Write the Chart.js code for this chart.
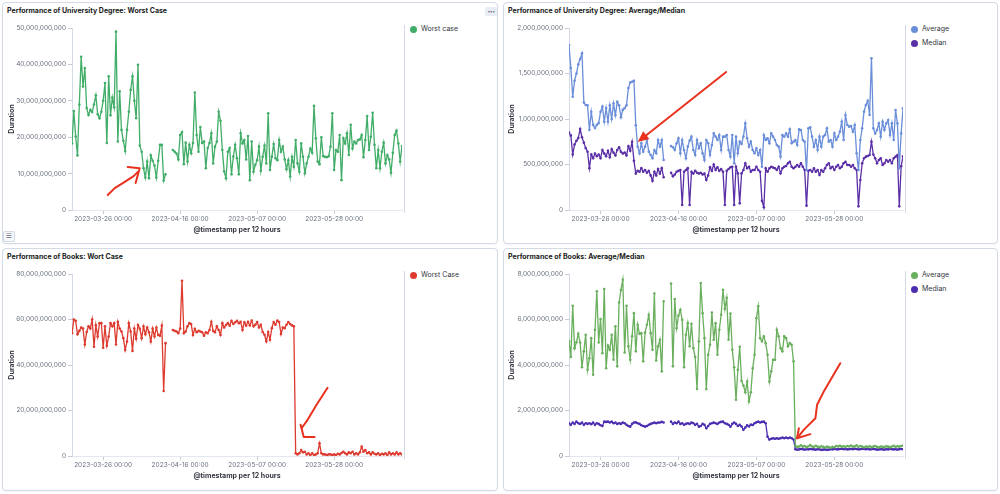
<!DOCTYPE html>
<html>
<head>
<meta charset="utf-8">
<script src="https://cdn.jsdelivr.net/npm/chart.js@4.4.0/dist/chart.umd.min.js"></script>
<style>
body { margin: 0; width: 1000px; height: 494px; background: #fff; font-family: Inter, sans-serif; position: relative; overflow: hidden; }
.panel { position: absolute; border: 1px solid #d3dae6; border-radius: 4px; background: #fff; box-sizing: border-box; box-shadow: 0 1px 2px rgba(0,0,0,0.04); }
.title { position: absolute; font-size: 7px; font-weight: 700; color: #1a1c21; white-space: nowrap; }
canvas { position: absolute; }
.legend { position: absolute; border-left: 1px solid #d3dae6; font-size: 7px; color: #343741; width: 90px; }
.items { position: relative; top: -3px; }
.item { position: relative; height: 14px; line-height: 14px; padding-left: 16px; white-space: nowrap; }
.dot { position: absolute; left: 5px; top: 3.5px; width: 7px; height: 7px; border-radius: 50%; }
.more { position: absolute; left: 485px; top: 7px; width: 12px; height: 9px; background: #e9edf3; border-radius: 2px; font-size: 5px; line-height: 9px; text-align: center; color: #69707d; letter-spacing: -0.5px; }
.listicon { position: absolute; left: 3px; top: 231px; width: 12px; height: 11px; border: 1px solid #d3dae6; background: #f5f7fa; border-radius: 2px; box-sizing: border-box; font-family: "DejaVu Sans"; font-size: 7px; line-height: 9px; text-align: center; color: #69707d; }
</style>
</head>
<body>
<div class="panel" style="left:2px;top:2px;width:496px;height:242px"></div>
<div class="panel" style="left:503px;top:2px;width:495px;height:242px"></div>
<div class="panel" style="left:2px;top:248px;width:496px;height:243px"></div>
<div class="panel" style="left:503px;top:248px;width:495px;height:243px"></div>

<div class="title" style="left:7px;top:6px">Performance of University Degree: Worst Case</div>
<div class="title" style="left:508px;top:6px">Performance of University Degree: Average/Median</div>
<div class="title" style="left:7px;top:252px">Performance of Books: Wort Case</div>
<div class="title" style="left:508px;top:252px">Performance of Books: Average/Median</div>

<div class="more">&#8226;&#8226;&#8226;</div>
<div class="listicon">&#9776;</div>

<canvas id="c1" width="401" height="216" style="left:3px;top:20px"></canvas>
<canvas id="c2" width="402" height="216" style="left:503px;top:20px"></canvas>
<canvas id="c3" width="401" height="216" style="left:3px;top:266px"></canvas>
<canvas id="c4" width="402" height="216" style="left:503px;top:266px"></canvas>

<div class="legend" id="l1" style="left:404px;top:25px;height:188px"></div>
<div class="legend" id="l2" style="left:905px;top:25px;height:188px"></div>
<div class="legend" id="l3" style="left:404px;top:271px;height:188px"></div>
<div class="legend" id="l4" style="left:905px;top:271px;height:188px"></div>

<script>
// x axis: one bucket per 12 hours, first bucket 2023-03-17 12:00
const tickIndex = [17, 59, 101, 143];
const tickLabels = ["2023-03-26 00:00", "2023-04-16 00:00", "2023-05-07 00:00", "2023-05-28 00:00"];

// University degree, worst case (billions)
const uniWorst = [
  18.3, 27.2, 20.2, 15, 29, 42.1, 33.9, 39, 28, 26.1,
  27.5, 26.9, 29, 31.5, 26.3, 25.2, 27, 30, 34.9, 18.4,
  36.7, 26, 30.9, 28.2, 49, 18.8, 32.6, 22, 19, 16.2,
  22, 27, 33, 36.7, 30, 25.2, 39.9, 17.7, 16, 11.5,
  8.9, 13.3, 8.7, 15, 13.5, 12.2, 8.9, 13.5, 17.9, 17.9,
  8.1, 9.8, null, null, null, 16.5, 16, 15.5, 13.9, 20.6,
  21.4, 12.6, 18.5, 13.3, 17.9, 15.6, 18.4, 32.3, 20.6, 16,
  22.8, 18.4, 18.8, 11.5, 17, 18.4, 21.1, 12.8, 17.4, 18.8,
  27, 24.5, 16.5, 10.6, 8.7, 16, 17, 9.8, 14.7, 17.9,
  14.2, 9.8, 21.1, 18.3, 19.2, 13.9, 20.3, 8.2, 18.8, 10.5,
  12.4, 13.7, 17.4, 10.8, 14.6, 17.7, 12.8, 26.6, 11, 14.6,
  18.1, 14.2, 13.7, 19.2, 16, 17.4, 13.9, 11.2, 13.7, 9.2,
  14.6, 11.9, 19.2, 12.8, 10.5, 18.3, 14.6, 10.1, 12.8, 14.6,
  16.9, 15.7, 28.6, 19.7, 13.3, 12.6, 20, 14.8, 14.6, 14.5,
  14.8, 17.4, 26.6, 11, 16.5, 16, 20.6, 8.2, 19.7, 18.3,
  21.1, 15.1, 23.4, 16.9, 18.8, 18.3, 19.2, 19.4, 20.6, 14.5,
  19.2, 25.8, 16.5, 20.1, 26.7, 17.9, 11.5, 16.5, 11.5, 16,
  18.5, 12.8, 15.1, 13.9, 10.2, 15.7, 20.6, 21.8, 18.3, 13.3,
  17.6
];

// University degree, average (millions)
const uniAverage = [
  1813, 1560, 1245, 1420, 1500, 1600, 1660, 1722, 1180, 1154,
  1150, 879, 1080, 935, 900, 935, 955, 1080, 1136, 970,
  1120, 970, 1150, 1000, 1170, 1040, 1190, 1150, 1020, 1100,
  1120, 1150, 1340, 1400, 1410, 1421, 930, 696, 623, 733,
  641, 696, 769, 641, 604, 568, 659, 623, 769, 696,
  769, 549, null, null, null, 703, 689, 659, 733, 788,
  623, 769, 659, 568, 696, 762, 806, 659, 604, 769,
  678, 733, 623, 549, 769, 733, 604, 714, 842, 806,
  769, 824, 659, 806, 806, 824, 659, 586, 824, 513,
  806, 623, 751, 725, 806, 952, 788, 696, 751, 659,
  623, 678, 604, 659, 476, 824, 769, 788, 733, 842,
  806, 769, 714, 696, 586, 824, 806, 842, 806, 886,
  733, 751, 769, 714, 886, 879, 769, 751, 440, 897,
  908, 806, 696, 769, 659, 806, 696, 806, 824, 897,
  751, 769, 696, 842, 769, 806, 861, 971, 769, 1044,
  934, 916, 923, 861, 934, 623, 440, 769, 897, 1081,
  1154, 1201, 1044, 1667, 897, 842, 879, 952, 806, 971,
  879, 952, 989, 824, 952, 769, 1099, 952, 458, 842,
  1117
];

// University degree, median (millions)
const uniMedian = [
  850, 820, 610, 720, 760, 790, 890, 800, 740, 680,
  640, 460, 610, 570, 620, 590, 610, 570, 660, 620,
  590, 650, 580, 670, 630, 600, 660, 690, 640, 620,
  630, 600, 700, 650, 750, 540, 400, 430, 420, 460,
  420, 440, 410, 430, 380, 320, 420, 380, 450, 400,
  460, 360, null, null, null, 410, 370, 390, 420, 430,
  440, 55, 420, 440, 460, 55, 420, 400, 430, 410,
  400, 410, 390, 400, 330, 380, 470, 430, 500, 440,
  470, 430, 450, 420, 55, 430, 450, 470, 476, 55,
  476, 403, 73, 403, 440, 513, 458, 476, 421, 440,
  440, 476, 440, 421, 100, 30, 458, 421, 458, 476,
  466, 458, 440, 476, 403, 458, 476, 484, 513, 531,
  476, 458, 476, 494, 476, 513, 476, 440, 48, 430,
  440, 421, 458, 421, 440, 385, 440, 421, 458, 494,
  513, 458, 476, 440, 476, 494, 458, 476, 513, 531,
  494, 494, 476, 494, 458, 440, 40, 330, 513, 568,
  586, 593, 604, 751, 610, 568, 513, 549, 568, 494,
  513, 549, 531, 549, 513, 568, 586, 604, 40, 480,
  590
];

// Books, worst case (billions)
const booksWorst = [
  54, 60, 59.4, 53.5, 55, 56.5, 56, 49, 54.5, 57,
  56, 60, 48, 57.5, 52.5, 58.4, 58.4, 47.6, 57, 48.5,
  52.5, 58.4, 57, 58.4, 49, 59, 56, 54.7, 51.8, 46.6,
  50.3, 58.4, 54.7, 46.2, 56, 51.5, 57.6, 55.9, 51.8, 57,
  53.5, 56.5, 54.4, 50.3, 56, 52.5, 56.5, 53.2, 52.9, 57.3,
  28.6, 49.6, null, null, null, 55.4, 55, 54.7, 54, 56,
  77, 54, 54.7, 57, 58.4, 58, 53.2, 55.9, 54.4, 55,
  54.7, 54.4, 52.9, 54.4, 54, 55.4, 59, 55, 54.4, 57,
  55.4, 53.2, 58.4, 56.5, 57.6, 58.4, 57.3, 59.4, 58, 58.8,
  59.4, 58.4, 59, 55.4, 58.8, 57.3, 59, 57.4, 59.5, 57,
  57.7, 58.9, 56.5, 57.7, 54.5, 53.3, 50.4, 54.5, 51.1, 56.2,
  58.9, 57.7, 59.5, 58.9, 53.6, 56.5, 56.2, 57.7, 58.9, 58,
  57.4, 57, 1.2, 0.7, 1.2, 2.6, 1.6, 1.9, 0.7, 1.2,
  0.4, 1.2, 0.4, 0.7, 1.2, 5.6, 1.2, 0.7, 0.7, 0.4,
  0.7, 0.7, 0.4, 0.7, 0.4, 1.0, 0.7, 1.3, 1.9, 1.2,
  0.7, 1.6, 1.2, 1.9, 0.7, 1.2, 0.7, 1.6, 4.1, 1.9,
  2.6, 1.2, 1.6, 0.7, 1.6, 1.0, 0.7, 1.2, 0.4, 1.0,
  0.7, 1.2, 0.4, 1.6, 0.7, 1.2, 0.7, 1.6, 0.7, 1.2,
  0.7
];

// Books, average (billions)
const booksAverage = [
  5.04, 4.35, 6.6, 4.74, 5.0, 5.37, 4.99, 3.9, 4.6, 5.33,
  3.79, 4.3, 5.18, 3.57, 5.55, 7.24, 4.99, 6.02, 4.52, 7.34,
  3.86, 4.85, 4.67, 5.33, 4.23, 5.7, 3.94, 6.75, 7.3, 7.75,
  4.55, 6.6, 4.82, 4.23, 5.26, 6.28, 4.6, 5.77, 5.37, 5.4,
  4.16, 5.43, 5.77, 6.21, 5.4, 4.67, 7.14, 4.2, 4.82, 5.11,
  3.72, 6.8, null, null, null, 7.58, 3.94, 6.9, 5.62, 6.17,
  6.43, 5.99, 3.9, 5.33, 5.84, 4.82, 5.81, 4.74, 4.35, 2.95,
  5.04, 7.6, 6.28, 5.18, 2.94, 4.45, 4.89, 6.31, 5.11, 5.84,
  4.45, 5.55, 6.21, 7.31, 6.46, 6.95, 5.11, 6.26, 4.67, 3.9,
  2.47, 3.79, 4.8, 3.3, 3.1, 2.8, 3.27, 2.4, 2.8, 3.86,
  4.45, 6.06, 6.58, 5.18, 5.04, 5.26, 4.96, 4.45, 3.27, 3.72,
  4.23, 4.23, 5.55, 5.26, 4.74, 4.6, 5.26, 5.18, 4.82, 4.96,
  4.89, 4.16, 0.45, 0.40, 0.42, 0.47, 0.41, 0.44, 0.39, 0.43,
  0.48, 0.42, 0.40, 0.45, 0.41, 0.38, 0.43, 0.40, 0.37, 0.41,
  0.39, 0.36, 0.40, 0.38, 0.44, 0.42, 0.45, 0.41, 0.43, 0.40,
  0.44, 0.42, 0.46, 0.41, 0.43, 0.47, 0.40, 0.44, 0.41, 0.38,
  0.42, 0.40, 0.43, 0.39, 0.41, 0.44, 0.40, 0.38, 0.42, 0.40,
  0.39, 0.43, 0.41, 0.38, 0.42, 0.45, 0.40, 0.43, 0.41, 0.44,
  0.46
];

// Books, median (billions)
const booksMedian = [
  1.44, 1.37, 1.47, 1.41, 1.51, 1.44, 1.41, 1.47, 1.37, 1.44,
  1.41, 1.44, 1.40, 1.47, 1.37, 1.44, 1.41, 1.35, 1.32, 1.51,
  1.50, 1.51, 1.47, 1.51, 1.44, 1.47, 1.41, 1.44, 1.41, 1.47,
  1.44, 1.37, 1.32, 1.29, 1.41, 1.47, 1.48, 1.44, 1.41, 1.35,
  1.32, 1.29, 1.32, 1.37, 1.41, 1.44, 1.47, 1.44, 1.47, 1.47,
  1.50, 1.47, null, null, null, 1.51, 1.41, 1.47, 1.44, 1.51,
  1.41, 1.44, 1.37, 1.41, 1.44, 1.41, 1.47, 1.44, 1.37, 1.41,
  1.29, 1.32, 1.41, 1.37, 1.22, 1.32, 1.41, 1.44, 1.47, 1.44,
  1.41, 1.47, 1.50, 1.51, 1.44, 1.41, 1.37, 1.29, 1.41, 1.47,
  1.41, 1.32, 1.37, 1.30, 1.15, 1.25, 1.35, 1.30, 1.38, 1.36,
  1.44, 1.48, 1.51, 1.47, 1.50, 1.51, 1.44, 0.85, 0.72, 0.76,
  0.78, 0.76, 0.78, 0.76, 0.78, 0.81, 0.78, 0.81, 0.78, 0.81,
  0.78, 0.72, 0.30, 0.28, 0.29, 0.31, 0.30, 0.28, 0.30, 0.29,
  0.31, 0.30, 0.29, 0.28, 0.30, 0.29, 0.27, 0.28, 0.29, 0.27,
  0.28, 0.30, 0.29, 0.31, 0.30, 0.29, 0.31, 0.32, 0.30, 0.31,
  0.29, 0.30, 0.31, 0.30, 0.32, 0.31, 0.29, 0.30, 0.32, 0.31,
  0.30, 0.31, 0.29, 0.30, 0.31, 0.30, 0.28, 0.29, 0.30, 0.29,
  0.28, 0.30, 0.29, 0.31, 0.30, 0.29, 0.30, 0.28, 0.30, 0.31,
  0.30
];

// hand drawn red arrows on the screenshot, in [bucket, value] of each chart
const notesUniWorst = [[[19.5, 4.1], [23.3, 6.0], [27.7, 7.4], [33.6, 9.3], [35.8, 10.4]], [[30.4, 11.8], [36.9, 11.5], [34.7, 7.4]]];
const notesUniAvg = { from: [84.7, 1516], to: [37, 747] };
const notesBooksWorst = [[[139.4, 30], [133.4, 22.5], [128.5, 15.9], [125.3, 12.3]], [[124.7, 13.7], [126.4, 8.4], [132.3, 8.4]]];
const notesBooksAvg = [[[146.2, 4.08], [137.3, 2.83], [133.7, 2.25], [132.8, 1.66], [126.5, 1.15], [122.9, 0.78]], [[123.9, 1.22], [122.9, 0.78], [130.1, 0.96]]];

Chart.defaults.font.family = "Inter";
Chart.defaults.font.size = 6.5;
Chart.defaults.color = "#69707d";
Chart.defaults.animation = false;

const handNotes = {
    id: "handNotes",
    afterDatasetsDraw: function(chart, args, opts) {
        const ctx = chart.ctx;
        const xs = chart.scales.x;
        const ys = chart.scales.y;
        const px = function(p) { return [xs.getPixelForValue(p[0]), ys.getPixelForValue(p[1] * opts.unit)]; };
        ctx.save();
        ctx.strokeStyle = "#e8321e";
        ctx.fillStyle = "#e8321e";
        ctx.lineWidth = 2;
        ctx.lineCap = "round";
        ctx.lineJoin = "round";
        (opts.strokes || []).forEach(function(s) {
            ctx.beginPath();
            s.forEach(function(p, i) {
                const q = px(p);
                if (i === 0) ctx.moveTo(q[0], q[1]); else ctx.lineTo(q[0], q[1]);
            });
            ctx.stroke();
        });
        if (opts.arrow) {
            const a = px(opts.arrow.from);
            const b = px(opts.arrow.to);
            const ang = Math.atan2(b[1] - a[1], b[0] - a[0]);
            const hl = 11, hw = 5;
            const bx = b[0] - Math.cos(ang) * hl, by = b[1] - Math.sin(ang) * hl;
            ctx.beginPath();
            ctx.moveTo(a[0], a[1]);
            ctx.lineTo(bx, by);
            ctx.stroke();
            ctx.beginPath();
            ctx.moveTo(b[0], b[1]);
            ctx.lineTo(bx + Math.sin(ang) * hw, by - Math.cos(ang) * hw);
            ctx.lineTo(bx - Math.sin(ang) * hw, by + Math.cos(ang) * hw);
            ctx.closePath();
            ctx.fill();
        }
        ctx.restore();
    }
};

function points(values, unit) {
    return values.map(function(v, i) {
        return { x: i, y: v === null ? null : v * unit };
    });
}

function line(label, values, unit, color) {
    return {
        label: label,
        data: points(values, unit),
        borderColor: color,
        backgroundColor: color,
        borderWidth: 1.3,
        pointRadius: 1.3,
        pointBorderWidth: 0,
        pointHoverRadius: 2,
        tension: 0,
        spanGaps: false
    };
}

function makeChart(id, legendId, datasets, yMax, yStep, yWidth, notes) {
    new Chart(document.getElementById(id), {
        type: "line",
        data: { datasets: datasets },
        options: {
            responsive: false,
            layout: { padding: { top: 8, left: 0, right: 0, bottom: 0 } },
            plugins: {
                legend: { display: false },
                tooltip: { enabled: false },
                handNotes: notes
            },
            scales: {
                x: {
                    type: "linear",
                    min: 0,
                    max: 180,
                    afterBuildTicks: function(axis) {
                        axis.ticks = tickIndex.map(function(v) { return { value: v }; });
                    },
                    afterFit: function(axis) { axis.height = 26; },
                    ticks: {
                        autoSkip: false,
                        maxRotation: 0,
                        padding: 1,
                        callback: function(v) { return tickLabels[tickIndex.indexOf(v)]; }
                    },
                    grid: { drawOnChartArea: false, tickLength: 4, color: "#c5ccd6" },
                    border: { color: "#e3e8f0" },
                    title: {
                        display: true,
                        text: "@timestamp per 12 hours",
                        color: "#343741",
                        font: { size: 7, weight: "bold" },
                        padding: { top: 2, bottom: 2 }
                    }
                },
                y: {
                    min: 0,
                    max: yMax,
                    afterFit: function(axis) { axis.width = yWidth; },
                    ticks: {
                        stepSize: yStep,
                        padding: 2,
                        callback: function(v) { return v.toLocaleString("en-US"); }
                    },
                    grid: { drawOnChartArea: false, tickLength: 4, color: "#c5ccd6" },
                    border: { color: "#d3dae6" },
                    title: {
                        display: true,
                        text: "Duration",
                        color: "#343741",
                        font: { size: 7, weight: "bold" },
                        padding: { top: 5, bottom: 2 }
                    }
                }
            }
        },
        plugins: [handNotes]
    });

    const box = document.createElement("div");
    box.className = "items";
    datasets.forEach(function(ds) {
        const item = document.createElement("div");
        item.className = "item";
        const dot = document.createElement("span");
        dot.className = "dot";
        dot.style.background = ds.borderColor;
        item.appendChild(dot);
        item.appendChild(document.createTextNode(ds.label));
        box.appendChild(item);
    });
    document.getElementById(legendId).appendChild(box);
}

makeChart("c1", "l1",
    [line("Worst case", uniWorst, 1e9, "#41ad68")],
    50e9, 10e9, 69, { unit: 1e9, strokes: notesUniWorst });

makeChart("c2", "l2",
    [line("Average", uniAverage, 1e6, "#6b8ed9"), line("Median", uniMedian, 1e6, "#5b2fa6")],
    2000e6, 500e6, 66, { unit: 1e6, arrow: notesUniAvg });

makeChart("c3", "l3",
    [line("Worst Case", booksWorst, 1e9, "#dd3b30")],
    80e9, 20e9, 69, { unit: 1e9, strokes: notesBooksWorst });

makeChart("c4", "l4",
    [line("Average", booksAverage, 1e9, "#6aaf5e"), line("Median", booksMedian, 1e9, "#4c2db0")],
    8e9, 2e9, 66, { unit: 1e9, strokes: notesBooksAvg });
</script>
</body>
</html>
